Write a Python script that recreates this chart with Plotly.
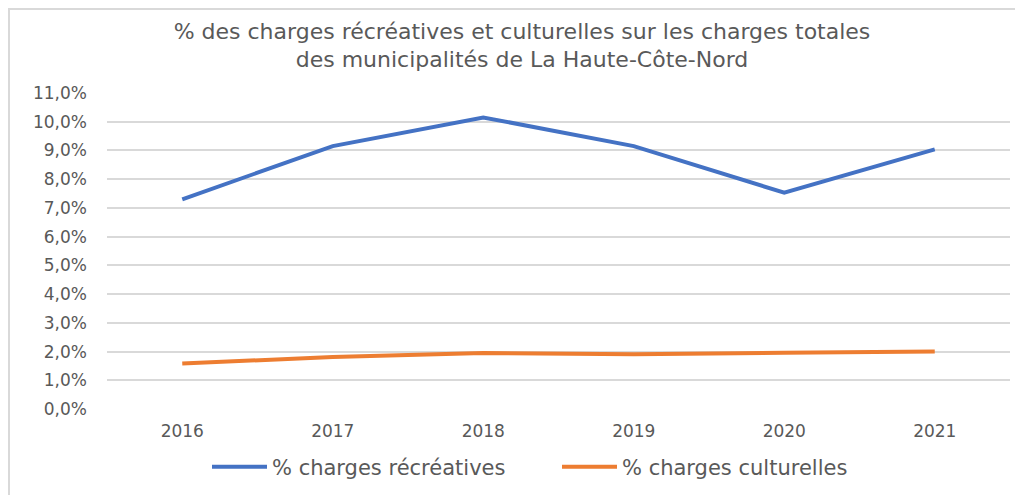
import plotly.graph_objects as go

years = ["2016", "2017", "2018", "2019", "2020", "2021"]
recreatives = [7.3, 9.15, 10.15, 9.15, 7.53, 9.04]
culturelles = [1.58, 1.81, 1.95, 1.91, 1.96, 2.0]
y_ticks = list(range(0, 12))
y_labels = [f"{v},0%" for v in y_ticks]

font = "'DejaVu Sans', sans-serif"
gray = "#595959"

fig = go.Figure()
fig.add_trace(go.Scatter(x=years, y=recreatives, mode="lines", name="% charges récréatives",
                         line=dict(color="#4472C4", width=4)))
fig.add_trace(go.Scatter(x=years, y=culturelles, mode="lines", name="% charges culturelles",
                         line=dict(color="#ED7D31", width=4)))

# page body has an 8px margin, so the figure is a bit smaller than the window
W, H = 1015, 487
L, R, T, B = 99, 13, 85, 86
pw, ph = W - L - R, H - T - B

fig.update_layout(
    width=W, height=H,
    margin=dict(l=L, r=R, t=T, b=B, autoexpand=False),
    paper_bgcolor="white", plot_bgcolor="white",
    font=dict(family=font, color=gray, size=17),
    title=dict(text="% des charges récréatives et culturelles sur les charges totales<br>des municipalités de La Haute-Côte-Nord",
               x=(522 - 8 - L) / pw, xref="paper", xanchor="center", y=0.937, yanchor="middle",
               font=dict(size=22, color=gray, family=font)),
    showlegend=True,
    legend=dict(orientation="h", x=(557 - 8 - L) / pw, xref="paper", xanchor="center",
                yref="container", y=0.0575, yanchor="middle",
                font=dict(size=21, color=gray), itemwidth=55, entrywidth=280),
    xaxis=dict(showgrid=False, showline=False, ticks="", range=[-0.5, 5.5],
               tickfont=dict(size=17), ticklabelstandoff=10),
    yaxis=dict(range=[0, 11], tickvals=y_ticks, ticktext=y_labels,
               showgrid=True, gridcolor="#D9D9D9", gridwidth=1.5, zeroline=False,
               tickfont=dict(size=17), ticklabelstandoff=19),
    shapes=[
        dict(type="line", xref="paper", yref="paper", x0=-L / pw, x1=(W - L) / pw,
             y0=(ph + T - 1) / ph, y1=(ph + T - 1) / ph, line=dict(color="#D9D9D9", width=2)),
        dict(type="line", xref="paper", yref="paper", x0=(1 - L) / pw, x1=(1 - L) / pw,
             y0=(ph + T) / ph, y1=-B / ph, line=dict(color="#D9D9D9", width=2)),
    ],
)

fig.write_html("out.html")
